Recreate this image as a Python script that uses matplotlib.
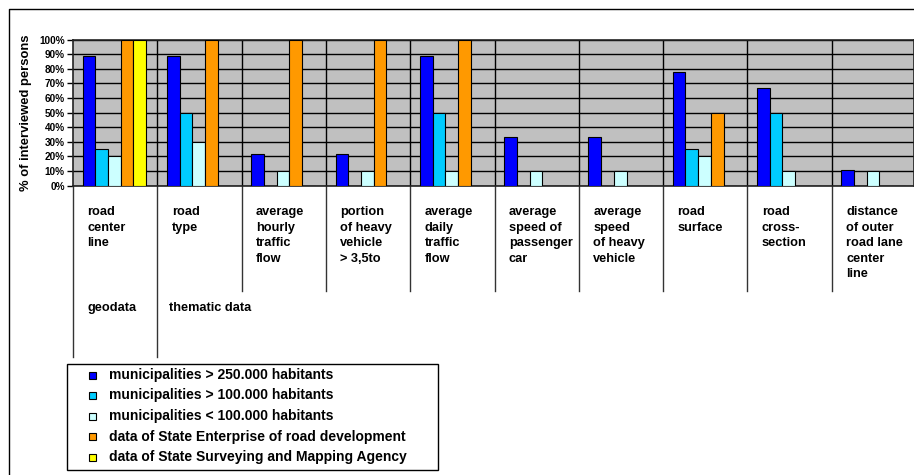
import matplotlib.pyplot as plt
import numpy as np
from matplotlib.lines import Line2D
from matplotlib.patches import Rectangle

plt.rcParams["font.family"] = ["Liberation Sans", "DejaVu Sans"]
plt.rcParams["font.weight"] = "bold"

# data (% of interviewed persons)
categories = [
    "road\ncenter\nline",
    "road\ntype",
    "average\nhourly\ntraffic\nflow",
    "portion\nof heavy\nvehicle\n> 3,5to",
    "average\ndaily\ntraffic\nflow",
    "average\nspeed of\npassenger\ncar",
    "average\nspeed\nof heavy\nvehicle",
    "road\nsurface",
    "road\ncross-\nsection",
    "distance\nof outer\nroad lane\ncenter\nline",
]
series_names = [
    "municipalities > 250.000 habitants",
    "municipalities > 100.000 habitants",
    "municipalities < 100.000 habitants",
    "data of State Enterprise of road development",
    "data of State Surveying and Mapping Agency",
]
muni_250 = [89, 89, 22, 22, 89, 33, 33, 78, 67, 11]
muni_100 = [25, 50, 0, 0, 50, 0, 0, 25, 50, 0]
muni_small = [20, 30, 10, 10, 10, 10, 10, 20, 10, 10]
state_road = [100, 100, 100, 100, 100, 0, 0, 50, 0, 0]
state_survey = [100, 0, 0, 0, 0, 0, 0, 0, 0, 0]
colors = ["#0000FF", "#00CCFF", "#CCFFFF", "#FF9900", "#FFFF00"]
group_labels = ["geodata", "thematic data"]

W, H = 914, 475
fig = plt.figure(figsize=(W / 100, H / 100), dpi=100)

# plot area in pixels
left, right, top, bottom = 73, 914, 39.5, 185.7
ax = fig.add_axes([left / W, 1 - bottom / H, (right - left) / W, (bottom - top) / H])
group_px = 84.3
ax.set_xlim(0, (right - left) / group_px)
ax.set_ylim(0, 100)
ax.set_facecolor("#C0C0C0")

bar_w = 1 / 6.64
x = np.arange(len(categories))
all_series = [muni_250, muni_100, muni_small, state_road, state_survey]
for i, (vals, c, name) in enumerate(zip(all_series, colors, series_names)):
    pos = x + 0.76 * bar_w + i * bar_w + bar_w / 2
    ax.bar(pos, vals, bar_w, color=c, edgecolor="black", linewidth=0.8,
           label=name, zorder=3)

ax.set_yticks(np.arange(0, 101, 10))
ax.set_yticklabels([f"{v}%" for v in range(0, 101, 10)], fontsize=7.2, fontweight="bold")
ax.tick_params(axis="y", direction="out", length=4, width=1, pad=2)
ax.set_xticks([])
ax.grid(axis="y", color="black", linewidth=1, zorder=1)
for xv in range(1, 10):
    ax.axvline(xv, color="black", linewidth=1, zorder=1)
for s in ax.spines.values():
    s.set_linewidth(1.2)
    s.set_color("#222222")
ax.set_ylabel("% of interviewed persons", fontsize=9.4, fontweight="bold", labelpad=5)

# category table below the plot
tr = ax.get_xaxis_transform()
ph = bottom - top
def yfrac(p):
    return (bottom - p) / ph

for i, lab in enumerate(categories):
    ax.text(i + 0.17, yfrac(206), lab, transform=tr, ha="left", va="top",
            fontsize=9.2, fontweight="bold", linespacing=1.4, clip_on=False)
for xv in range(0, 10):
    yend = 357 if xv in (0, 1) else 291
    ax.add_line(Line2D([xv, xv], [0, yfrac(yend)], transform=tr, color="#333333",
                       linewidth=1, clip_on=False))
ax.text(0 + 0.17, yfrac(308), group_labels[0], transform=tr, ha="left", va="center",
        fontsize=9.2, fontweight="bold", clip_on=False)
ax.text(1 + 0.14, yfrac(308), group_labels[1], transform=tr, ha="left", va="center",
        fontsize=9.2, fontweight="bold", clip_on=False)

# legend box drawn in figure pixels
def fx(p):
    return p / W
def fy(p):
    return 1 - p / H

fig.add_artist(Rectangle((fx(67), fy(470)), fx(438) - fx(67), fy(364) - fy(470),
                         transform=fig.transFigure, facecolor="white",
                         edgecolor="black", linewidth=1))
for i, (c, name) in enumerate(zip(colors, series_names)):
    yc = 375 + 20.5 * i
    fig.add_artist(Rectangle((fx(88.5), fy(yc + 3.5)), 7 / W, 7 / H,
                             transform=fig.transFigure, facecolor=c,
                             edgecolor="black", linewidth=0.8))
    fig.text(fx(109), fy(yc), name, ha="left", va="center", fontsize=10,
             fontweight="bold")

# outer chart border
fig.add_artist(Line2D([9 / W, 9 / W, 1], [0, 1 - 9 / H, 1 - 9 / H],
                      transform=fig.transFigure, color="black", linewidth=1))

fig.savefig("out.png", dpi=100)
